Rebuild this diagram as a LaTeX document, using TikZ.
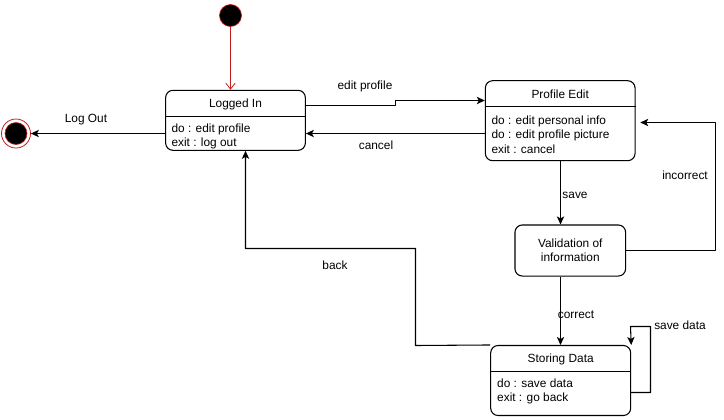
\documentclass[tikz,border=0pt]{standalone}
\usepackage{fontspec}
\setmainfont{Liberation Sans}
\usetikzlibrary{arrows.meta}
\definecolor{initred}{RGB}{190,30,30}
\begin{document}
\begin{tikzpicture}[x=0.75pt,y=-0.75pt,>={Stealth[length=6pt,width=5.5pt,inset=1.5pt]},
	line join=round,line width=0.8pt,font=\fontsize{8.9}{10.6}\selectfont,
	state/.style={draw,rounded corners=5.5pt,inner sep=0pt},
	body/.style={anchor=west,align=left,inner sep=0pt},
	lbl/.style={inner sep=1pt}]
	\useasboundingbox (0,0) rectangle (724,419);
	% start and end
	\node[circle,fill=black,draw=initred,line width=0.5pt,minimum size=16.5pt,inner sep=0pt] (init) at (230.5,15.5) {};
	\node[circle,draw=initred,line width=0.6pt,minimum size=21.75pt,inner sep=0pt] (final) at (16,133.5) {};
	\node[circle,fill=black,draw=initred,line width=0.5pt,minimum size=16.5pt,inner sep=0pt] (finalin) at (final) {};
	% states
	\node[state,minimum width=104.8pt,minimum height=45pt] (login) at (235.5,120.3) {};
	\draw (login.west |- 0,116.5) -- (login.east |- 0,116.5);
	\node (logintitle) at (235.5,104) {Logged In};
	\node[body] (loginbody) at (171,136.5) {do : edit profile\\exit : log out};

	\node[state,minimum width=112.3pt,minimum height=60pt] (pedit) at (560.2,120.7) {};
	\draw (pedit.west |- 0,106.5) -- (pedit.east |- 0,106.5);
	\node (pedittitle) at (560.2,94) {Profile Edit};
	\node[body] (peditbody) at (491,134.7) {do : edit personal info\\do : edit profile picture\\exit : cancel};

	\node[state,minimum width=83pt,minimum height=38.3pt,align=center] (valid) at (570.3,250.5) {Validation of\\information};

	\node[state,minimum width=105pt,minimum height=52.5pt] (store) at (560.7,380.5) {};
	\draw (store.west |- 0,371.5) -- (store.east |- 0,371.5);
	\node (storetitle) at (560.7,359) {Storing Data};
	\node[body] (storebody) at (496.7,391.5) {do : save data\\exit : go back};
	% transitions
	\draw[initred,-{Straight Barb[length=4.5pt,width=7pt]},line width=0.6pt] (init) -- (login.north -| init);
	\draw[->] (login.west |- final) -- (final);
	\draw[->] (login.east |- 0,105.5) -- (395.5,105.5) -- (395.5,100.5) -- (pedit.west |- 0,100.5);
	\draw[->] (pedit.west |- 0,133.5) -- (login.east |- 0,133.5);
	\draw[->] (pedit.south -| 560.5,0) -- (valid.north -| 560.5,0);
	\draw[->] (valid.east) -- (715.5,250.5) -- (715.5,122.5) -- ([xshift=3.5pt]pedit.east |- 0,122.5);
	\draw[->] (valid.south -| 560.5,0) -- (store.north -| 560.5,0);
	\draw[->] (store.east |- 0,392.5) -- (650.5,392.5) -- (650.5,326.5) -- (630.5,326.5) -- (store.north east);
	\draw[->] (store.north west) -- (415.5,345.5) -- (415.5,248.5) -- (245.5,248.5) -- (login.south -| 245.5,0);
	% labels
	\node[lbl] (lblout) at (86,120) {Log Out};
	\node[lbl] (lbledit) at (365,86) {edit profile};
	\node[lbl] (lblcancel) at (376,145) {cancel};
	\node[lbl] (lblsave) at (575,195) {save};
	\node[lbl] (lblincorrect) at (685,175) {incorrect};
	\node[lbl] (lblcorrect) at (576,315) {correct};
	\node[lbl] (lblsavedata) at (680,325) {save data};
	\node[lbl] (lblback) at (335,265) {back};
\end{tikzpicture}
\end{document}
